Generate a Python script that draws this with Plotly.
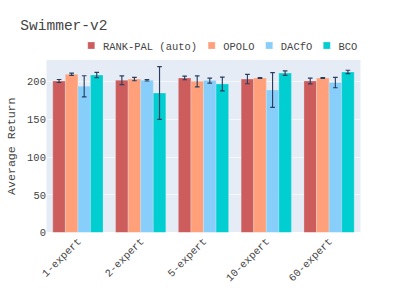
import plotly.graph_objects as go

categories = ["1-expert", "2-expert", "5-expert", "10-expert", "60-expert"]
methods = ["RANK-PAL (auto)", "OPOLO", "DACfO", "BCO"]
rank_pal = [201, 202, 205, 203.5, 201]
rank_pal_err = [2, 5.8, 2.4, 6.2, 3.8]
opolo = [210, 203.5, 200.5, 205, 205]
opolo_err = [1.5, 2.2, 7.3, 0.6, 0.6]
dacfo = [194, 202, 201.5, 189, 199]
dacfo_err = [14, 1, 3.3, 23, 6.9]
bco = [209, 185, 197, 211.5, 213]
bco_err = [3.5, 35, 9.2, 3, 2.2]
colors = ["indianred", "lightsalmon", "lightskyblue", "darkturquoise"]

values = [rank_pal, opolo, dacfo, bco]
errors = [rank_pal_err, opolo_err, dacfo_err, bco_err]

fig = go.Figure()
for name, v, e, c in zip(methods, values, errors, colors):
    fig.add_trace(go.Bar(
        x=categories, y=v, name=name, marker_color=c,
        error_y=dict(type="data", array=e, visible=True),
    ))

fig.update_layout(
    width=700, height=500,
    template="plotly",
    barmode="group",
    font=dict(family="Courier New, Liberation Mono, monospace", size=18, color="#444"),
    title=dict(text="Swimmer-v2", font=dict(size=25)),
    margin=dict(l=80, r=80, t=103, b=100),
    legend=dict(orientation="h", x=1, xanchor="right", y=1.02, yanchor="bottom"),
    yaxis=dict(title=dict(text="Average Return", font=dict(size=20)), range=[0, 229],
               tickvals=[0, 50, 100, 150, 200]),
    xaxis=dict(tickangle=-45),
    hovermode=False,
)

scale_js = "document.body.style.margin='0';document.body.style.zoom='%.4f';" % (407 / 700)
fig.write_html("out.html", post_script=scale_js, config={"displayModeBar": False, "staticPlot": True})
